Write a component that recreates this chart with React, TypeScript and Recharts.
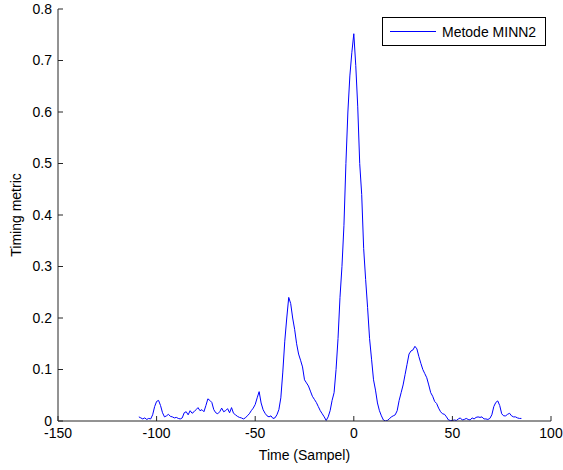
import React from 'react';
import { LineChart, Line, XAxis, YAxis, Legend, Label } from 'recharts';

const timeSamples: number[] = [];
for (let t = -109; t <= 85; t++) timeSamples.push(t);

const metricValues: number[] = [
  // -109 .. -100
  0.008, 0.006, 0.004, 0.006, 0.003, 0.005, 0.004, 0.012, 0.028, 0.038,
  // -99 .. -90
  0.040, 0.030, 0.016, 0.008, 0.010, 0.013, 0.009, 0.008, 0.006, 0.007,
  // -89 .. -80
  0.005, 0.004, 0.006, 0.016, 0.018, 0.012, 0.020, 0.015, 0.018, 0.022,
  // -79 .. -70
  0.026, 0.020, 0.022, 0.018, 0.030, 0.043, 0.040, 0.036, 0.022, 0.016,
  // -69 .. -60
  0.014, 0.018, 0.025, 0.018, 0.020, 0.024, 0.016, 0.026, 0.015, 0.012,
  // -59 .. -50
  0.009, 0.007, 0.006, 0.004, 0.006, 0.010, 0.014, 0.020, 0.025, 0.032,
  // -49 .. -40
  0.045, 0.057, 0.035, 0.022, 0.015, 0.010, 0.008, 0.010, 0.005, 0.006,
  // -39 .. -30
  0.012, 0.022, 0.045, 0.095, 0.155, 0.200, 0.240, 0.228, 0.200, 0.178,
  // -29 .. -20
  0.150, 0.130, 0.118, 0.105, 0.080, 0.074, 0.068, 0.058, 0.048, 0.042,
  // -19 .. -10
  0.036, 0.028, 0.020, 0.014, 0.008, 0.001, 0.008, 0.020, 0.040, 0.055,
  // -9 .. 0
  0.100, 0.160, 0.240, 0.300, 0.380, 0.500, 0.600, 0.670, 0.715, 0.752,
  // 1 .. 10
  0.690, 0.610, 0.500, 0.440, 0.335, 0.275, 0.220, 0.160, 0.120, 0.080,
  // 11 .. 20
  0.060, 0.035, 0.020, 0.010, 0.002, 0.000, 0.001, 0.004, 0.008, 0.010,
  // 21 .. 30
  0.012, 0.020, 0.040, 0.055, 0.070, 0.090, 0.110, 0.130, 0.136, 0.138,
  // 31 .. 40
  0.145, 0.140, 0.125, 0.112, 0.100, 0.092, 0.084, 0.070, 0.055, 0.048,
  // 41 .. 50
  0.038, 0.034, 0.025, 0.018, 0.014, 0.013, 0.008, 0.002, 0.001, 0.001,
  // 51 .. 60
  0.002, 0.001, 0.004, 0.006, 0.002, 0.003, 0.005, 0.003, 0.002, 0.006,
  // 61 .. 70
  0.004, 0.007, 0.008, 0.007, 0.008, 0.004, 0.004, 0.003, 0.005, 0.012,
  // 71 .. 80
  0.028, 0.036, 0.039, 0.030, 0.014, 0.010, 0.010, 0.013, 0.015, 0.010,
  // 81 .. 85
  0.008, 0.008, 0.006, 0.005, 0.005,
];

const xTicks = [-150, -100, -50, 0, 50, 100];
const yTicks = [0, 0.1, 0.2, 0.3, 0.4, 0.5, 0.6, 0.7, 0.8];
const seriesName = 'Metode MINN2';
const xTitle = 'Time (Sampel)';
const yTitle = 'Timing metric';

const data = timeSamples.map((t, i) => ({ t, v: metricValues[i] }));

const FONT = '"Liberation Sans", Arial, Helvetica, sans-serif';
const AXIS_COLOR = '#262626';
const LINE_COLOR = '#0000ff';

const renderLegend = () => (
  <div
    style={{
      boxSizing: 'border-box',
      width: 164,
      height: 29,
      border: '1px solid #000',
      background: '#fff',
      display: 'flex',
      alignItems: 'center',
      fontFamily: FONT,
      fontSize: 14,
      color: '#000',
    }}
  >
    <div style={{ width: 46, height: 1, background: LINE_COLOR, marginLeft: 7, marginRight: 6 }} />
    <span>{seriesName}</span>
  </div>
);

export default function App() {
  return (
    <div style={{ width: 563, height: 470, background: '#fff', fontFamily: FONT }}>
      <style>{'body{margin:0;background:#fff;}'}</style>
      <LineChart
        width={563}
        height={470}
        data={data}
        margin={{ top: 9, right: 12, bottom: 0, left: 0 }}
        style={{ fontFamily: FONT }}
      >
        <XAxis
          dataKey="t"
          type="number"
          domain={[-150, 100]}
          ticks={xTicks}
          allowDataOverflow
          height={49}
          tickSize={-5}
          tickMargin={12}
          stroke={AXIS_COLOR}
          tick={{ fill: '#000', fontSize: 14, fontFamily: FONT }}
        >
          <Label
            value={xTitle}
            position="insideBottom"
            offset={10}
            style={{ fill: '#000', fontSize: 14, fontFamily: FONT }}
          />
        </XAxis>
        <XAxis
          xAxisId="top"
          orientation="top"
          type="number"
          domain={[-150, 100]}
          ticks={xTicks}
          allowDataOverflow
          height={0}
          tickSize={-5}
          tickFormatter={() => ''}
          stroke={AXIS_COLOR}
        />
        <YAxis
          type="number"
          domain={[0, 0.8]}
          ticks={yTicks}
          allowDataOverflow
          width={58}
          tickSize={-5}
          tickMargin={11}
          stroke={AXIS_COLOR}
          tick={{ fill: '#000', fontSize: 14, fontFamily: FONT }}
        >
          <Label
            value={yTitle}
            angle={-90}
            position="insideLeft"
            offset={16}
            style={{ fill: '#000', fontSize: 14, fontFamily: FONT, textAnchor: 'middle' }}
          />
        </YAxis>
        <YAxis
          yAxisId="right"
          orientation="right"
          type="number"
          domain={[0, 0.8]}
          ticks={yTicks}
          allowDataOverflow
          width={0}
          tickSize={-5}
          tickFormatter={() => ''}
          stroke={AXIS_COLOR}
        />
        <Legend
          layout="vertical"
          align="center"
          verticalAlign="middle"
          content={renderLegend}
          wrapperStyle={{ left: 382, top: 17, width: 164, height: 29 }}
        />
        <Line
          type="linear"
          dataKey="v"
          name={seriesName}
          stroke={LINE_COLOR}
          strokeWidth={1}
          dot={false}
          activeDot={false}
          isAnimationActive={false}
        />
      </LineChart>
    </div>
  );
}
